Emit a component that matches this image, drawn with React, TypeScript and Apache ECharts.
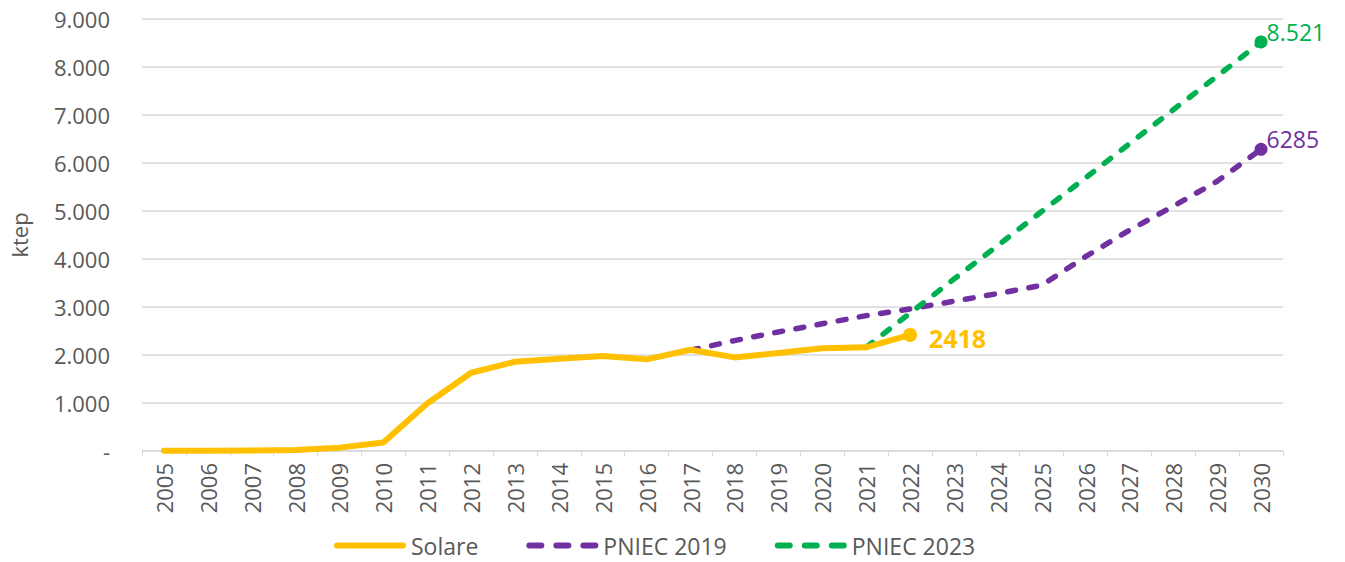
import React, { useEffect, useRef } from "react";
import * as echarts from "echarts";

const years = [
  "2005", "2006", "2007", "2008", "2009", "2010", "2011", "2012", "2013",
  "2014", "2015", "2016", "2017", "2018", "2019", "2020", "2021", "2022",
  "2023", "2024", "2025", "2026", "2027", "2028", "2029", "2030",
];

const solare = [
  5, 5, 8, 20, 70, 175, 990, 1630, 1860, 1920, 1980, 1910, 2110, 1950, 2040,
  2140, 2160, 2418, null, null, null, null, null, null, null, null,
];

const pniec2019 = [
  null, null, null, null, null, null, null, null, null, null, null, null,
  2100, 2300, 2480, 2650, 2820, 2960, 3120, 3280, 3450, 4050, 4600, 5100,
  5620, 6285,
];

const pniec2023 = [
  null, null, null, null, null, null, null, null, null, null, null, null,
  null, null, null, null, 2160, 2870, 3580, 4280, 4990, 5690, 6400, 7110,
  7810, 8521,
];

const yTickLabels = ["-", "1.000", "2.000", "3.000", "4.000", "5.000", "6.000", "7.000", "8.000", "9.000"];

const endLabels = { solare: "2418", pniec2019: "6285", pniec2023: "8.521" };

const FONT = "Open Sans";
const TXT = "#595959";
const YELLOW = "#FFC000";
const PURPLE = "#7030A0";
const GREEN = "#00B050";

const SOLID_ICON = "path://M3,0h66a3,3 0 0 1 0,6h-66a3,3 0 0 1 0,-6z";
const DASH_ICON =
  "path://M3,0h12a3,3 0 0 1 0,6h-12a3,3 0 0 1 0,-6z M30,0h12a3,3 0 0 1 0,6h-12a3,3 0 0 1 0,-6z M57,0h12a3,3 0 0 1 0,6h-12a3,3 0 0 1 0,-6z";

function withEnd(
  arr: (number | null)[],
  idx: number,
  color: string,
  text: string,
  bold: boolean,
  size: number,
  offset: number[],
  distance: number
) {
  return arr.map((v, i) => {
    if (i !== idx) return v;
    return {
      value: v,
      symbol: "circle",
      symbolSize: size,
      itemStyle: { color },
      label: {
        show: true,
        position: "right",
        formatter: text,
        color,
        fontFamily: FONT,
        fontSize: bold ? 25 : 23,
        fontWeight: bold ? "bold" : "normal",
        offset,
        distance,
      },
    };
  });
}

export default function App() {
  const ref = useRef<HTMLDivElement>(null);
  useEffect(() => {
    document.body.style.margin = "0";
    if (!ref.current) return;
    const chart = echarts.init(ref.current, undefined, { renderer: "svg" });
    chart.setOption({
      animation: false,
      textStyle: { fontFamily: FONT },
      grid: { left: 138, right: 62, top: 19, bottom: 111, containLabel: false },
      legend: {
        left: 334,
        top: 534,
        padding: 0,
        itemWidth: 72,
        itemHeight: 6,
        itemGap: 48,
        textStyle: { color: TXT, fontSize: 23, fontFamily: FONT },
        data: [
          { name: "Solare", icon: SOLID_ICON },
          { name: "PNIEC 2019", icon: DASH_ICON },
          { name: "PNIEC 2023", icon: DASH_ICON },
        ],
      },
      xAxis: {
        type: "category",
        data: years,
        boundaryGap: true,
        axisLine: { show: true, lineStyle: { color: "#D9D9D9", width: 1.5 } },
        axisTick: { show: true, length: 5, lineStyle: { color: "#D9D9D9" } },
        axisLabel: { rotate: 90, color: TXT, fontSize: 22, fontFamily: FONT, margin: 12, interval: 0 },
      },
      yAxis: {
        type: "value",
        min: 0,
        max: 9000,
        interval: 1000,
        name: "ktep",
        nameLocation: "middle",
        nameGap: 112,
        nameTextStyle: { color: TXT, fontSize: 22, fontFamily: FONT },
        axisLine: { show: false },
        axisTick: { show: false },
        splitLine: { lineStyle: { color: "#D9D9D9", width: 1.5 } },
        axisLabel: {
          color: TXT,
          fontSize: 22,
          fontFamily: FONT,
          margin: 32,
          formatter: (v: number) => yTickLabels[Math.round(v / 1000)],
        },
      },
      series: [
        {
          name: "Solare",
          type: "line",
          data: withEnd(solare, 17, YELLOW, endLabels.solare, true, 14, [6, 3], 6),
          symbol: "none",
          showSymbol: true,
          showAllSymbol: true,
          color: YELLOW,
          lineStyle: { color: YELLOW, width: 6, cap: "round", join: "round" },
          z: 3,
        },
        {
          name: "PNIEC 2019",
          type: "line",
          data: withEnd(pniec2019, 25, PURPLE, endLabels.pniec2019, false, 13, [-6, -10], 5),
          symbol: "none",
          showSymbol: true,
          showAllSymbol: true,
          color: PURPLE,
          lineStyle: { color: PURPLE, width: 5.5, type: [8, 13.5], cap: "round", join: "round" },
          z: 2,
        },
        {
          name: "PNIEC 2023",
          type: "line",
          data: withEnd(pniec2023, 25, GREEN, endLabels.pniec2023, false, 13, [-6, -10], 5),
          symbol: "none",
          showSymbol: true,
          showAllSymbol: true,
          color: GREEN,
          lineStyle: { color: GREEN, width: 5.5, type: [8, 13.5], cap: "round", join: "round" },
          z: 2,
        },
      ],
    });
    return () => chart.dispose();
  }, []);
  return <div ref={ref} style={{ width: 1345, height: 562 }} />;
}
